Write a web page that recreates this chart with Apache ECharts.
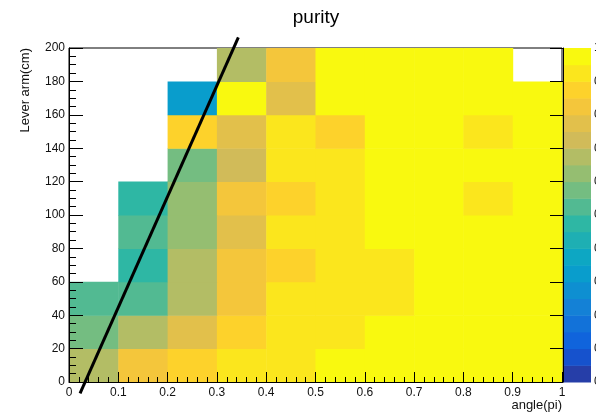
<!DOCTYPE html>
<html lang="en">
<head>
    <meta charset="UTF-8">
    <title>purity</title>
    <script src="https://cdn.jsdelivr.net/npm/echarts@6.0.0/dist/echarts.min.js"></script>
    <style>
        html, body { margin: 0; padding: 0; background: #fff; }
    </style>
</head>
<body>
<div id="main" style="width: 596px; height: 414px;"></div>
<script>
    // bin lower edges
    var angleBins = [0, 0.1, 0.2, 0.3, 0.4, 0.5, 0.6, 0.7, 0.8, 0.9];
    var armBins = [0, 20, 40, 60, 80, 100, 120, 140, 160, 180];
    var binW = 0.1;
    var binH = 20;

    // purity per cell, one row per lever-arm bin (bottom row first), null = empty
    var purity = [
        [0.675, 0.825, 0.875, 0.925, 0.925, 0.975, 0.975, 0.975, 0.975, 0.975],
        [0.575, 0.675, 0.775, 0.875, 0.925, 0.925, 0.975, 0.975, 0.975, 0.975],
        [0.525, 0.525, 0.675, 0.825, 0.925, 0.925, 0.925, 0.975, 0.975, 0.975],
        [null, 0.475, 0.675, 0.825, 0.875, 0.925, 0.925, 0.975, 0.975, 0.975],
        [null, 0.525, 0.625, 0.775, 0.925, 0.925, 0.975, 0.975, 0.975, 0.975],
        [null, 0.475, 0.625, 0.825, 0.875, 0.925, 0.975, 0.975, 0.925, 0.975],
        [null, null, 0.575, 0.725, 0.925, 0.925, 0.975, 0.975, 0.975, 0.975],
        [null, null, 0.875, 0.775, 0.925, 0.875, 0.975, 0.975, 0.925, 0.975],
        [null, null, 0.325, 0.975, 0.775, 0.975, 0.975, 0.975, 0.975, 0.975],
        [null, null, null, 0.675, 0.825, 0.975, 0.975, 0.975, 0.975, null]
    ];

    // colour levels of the palette (20 contours)
    var zLevels = [0, 0.05, 0.1, 0.15, 0.2, 0.25, 0.3, 0.35, 0.4, 0.45, 0.5,
                   0.55, 0.6, 0.65, 0.7, 0.75, 0.8, 0.85, 0.9, 0.95, 1];
    var birdColors = ['#263ea8', '#1652cd', '#1064dc', '#1272d9', '#1481d6',
                      '#0e8fd1', '#099dcc', '#0da7c3', '#1eafb3', '#2eb7a4',
                      '#52ba92', '#74bd81', '#95be71', '#b3bd65', '#d1bb59',
                      '#e2c04b', '#f4c63b', '#fdd22b', '#fbe61d', '#f9f90f'];

    // straight cut line
    var cutLine = [[0.0224, -6.8], [0.3435, 206.4]];

    var font = 'Liberation Sans, Arial, Helvetica, sans-serif';

    function zColor(v) {
        for (var i = 0; i < birdColors.length; i++) {
            if (v < zLevels[i + 1]) return birdColors[i];
        }
        return birdColors[birdColors.length - 1];
    }

    var cells = [];
    for (var i = 0; i < armBins.length; i++) {
        for (var j = 0; j < angleBins.length; j++) {
            if (purity[i][j] != null) {
                cells.push([angleBins[j], armBins[i], purity[i][j]]);
            }
        }
    }

    var bands = [];
    for (var k = 0; k < birdColors.length; k++) {
        bands.push([0.5, zLevels[k], zLevels[k + 1]]);
    }

    function drawCell(params, api) {
        var x0 = api.value(0), y0 = api.value(1);
        var a = api.coord([x0, y0 + binH]);
        var b = api.coord([x0 + binW, y0]);
        return {
            type: 'rect',
            shape: {x: a[0], y: a[1], width: b[0] - a[0] + 0.5, height: b[1] - a[1] + 0.5},
            style: {fill: zColor(api.value(2))}
        };
    }

    function drawBand(params, api) {
        var lo = api.value(1), hi = api.value(2);
        var a = api.coord([0, hi]);
        var b = api.coord([1, lo]);
        return {
            type: 'rect',
            shape: {x: a[0], y: a[1], width: b[0] - a[0], height: b[1] - a[1] + 0.5},
            style: {fill: zColor((lo + hi) / 2)}
        };
    }

    var myChart = echarts.init(document.getElementById('main'));
    var option = {
        animation: false,
        backgroundColor: '#fff',
        title: {
            text: 'purity',
            left: 316,
            top: 8,
            padding: 0,
            textAlign: 'center',
            textStyle: {fontFamily: font, fontSize: 19, fontWeight: 'normal', color: '#000'}
        },
        grid: [
            {left: 69, top: 48, width: 493, height: 334, show: true, outerBoundsMode: 'none',
             borderColor: '#000', borderWidth: 1, backgroundColor: 'transparent'},
            {left: 563, top: 48, width: 28, height: 334, show: false, outerBoundsMode: 'none'}
        ],
        xAxis: [
            {
                type: 'value', gridIndex: 0, min: 0, max: 1, interval: 0.1, z: 5,
                name: 'angle(pi)', nameLocation: 'end', nameGap: 0,
                nameMoveOverlap: false,
                nameTextStyle: {fontFamily: font, fontSize: 13, color: '#111',
                                align: 'right', verticalAlign: 'top', padding: [17, 0, 0, 0]},
                axisLine: {lineStyle: {color: '#000', width: 1}},
                axisTick: {inside: true, length: 10, lineStyle: {color: '#000'}},
                minorTick: {show: true, splitNumber: 5, length: 5, lineStyle: {color: '#000'}},
                splitLine: {show: false},
                axisLabel: {margin: 5, fontFamily: font, fontSize: 12, color: '#111'}
            },
            {type: 'value', gridIndex: 1, min: 0, max: 1, show: false}
        ],
        yAxis: [
            {
                type: 'value', gridIndex: 0, min: 0, max: 200, interval: 20, z: 5,
                name: 'Lever arm(cm)', nameLocation: 'end', nameGap: 0, nameRotate: 90,
                nameMoveOverlap: false,
                nameTextStyle: {fontFamily: font, fontSize: 13, color: '#111',
                                align: 'right', verticalAlign: 'bottom', padding: [0, 0, 37, 0]},
                axisLine: {lineStyle: {color: '#000', width: 1}},
                axisTick: {inside: true, length: 14, lineStyle: {color: '#000'}},
                minorTick: {show: true, splitNumber: 4, length: 7, lineStyle: {color: '#000'}},
                splitLine: {show: false},
                axisLabel: {margin: 4, fontFamily: font, fontSize: 12, color: '#111'}
            },
            {
                type: 'value', gridIndex: 1, min: 0, max: 1, interval: 0.1, position: 'right', z: 5,
                axisLine: {show: true, lineStyle: {color: '#000', width: 1}},
                axisTick: {inside: true, length: 13, lineStyle: {color: '#000'}},
                splitLine: {show: false},
                axisLabel: {margin: 3, fontFamily: font, fontSize: 12, color: '#111'}
            }
        ],
        series: [
            {
                type: 'custom', xAxisIndex: 0, yAxisIndex: 0,
                renderItem: drawCell, encode: {x: 0, y: 1}, data: cells, silent: true
            },
            {
                type: 'custom', xAxisIndex: 1, yAxisIndex: 1,
                renderItem: drawBand, encode: {x: 0, y: [1, 2]}, data: bands, silent: true
            },
            {
                type: 'line', xAxisIndex: 0, yAxisIndex: 0, data: cutLine,
                symbol: 'none', clip: false, z: 10, silent: true,
                lineStyle: {color: '#000', width: 3}
            }
        ]
    };
    myChart.setOption(option);
</script>
</body>
</html>
